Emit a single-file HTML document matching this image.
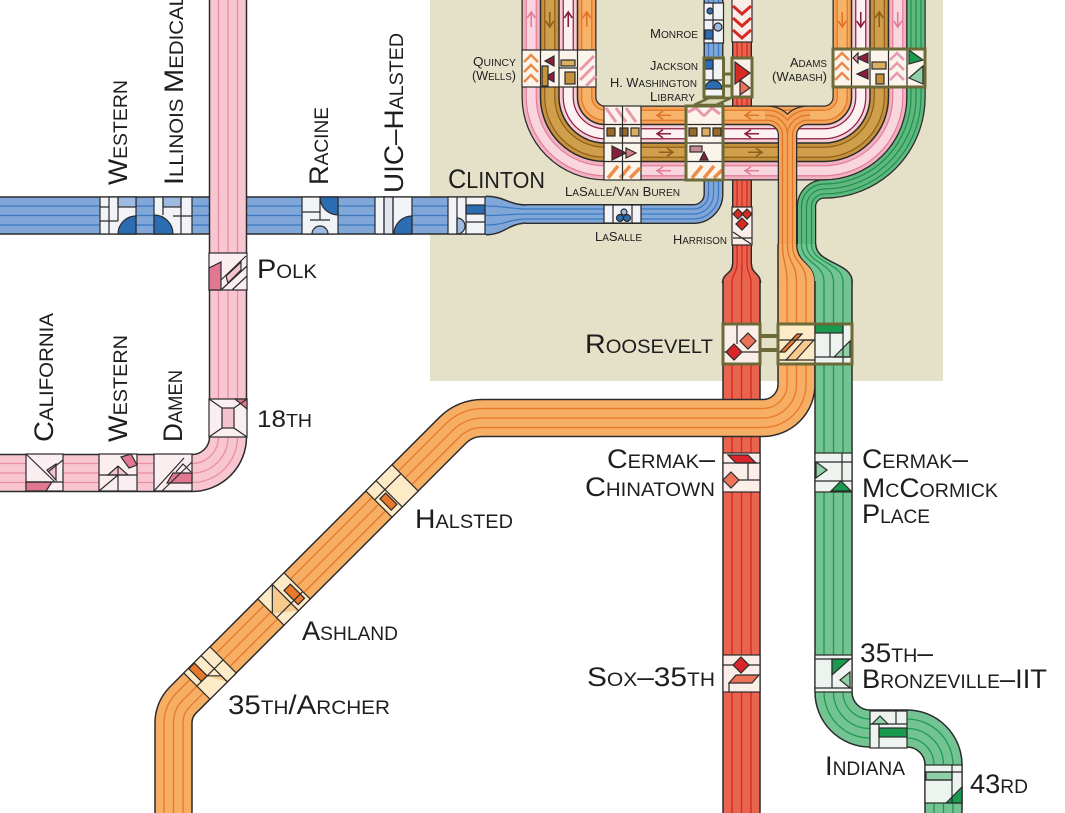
<!DOCTYPE html>
<html><head><meta charset="utf-8">
<style>
html,body{margin:0;padding:0;background:#fff;}
svg{display:block;}
text{font-family:"Liberation Sans",sans-serif;fill:#1e1e1e;}
</style></head><body>
<svg width="1065" height="813" viewBox="0 0 1065 813" xmlns="http://www.w3.org/2000/svg">
<rect width="1065" height="813" fill="#ffffff"/>
<rect x="430" y="0" width="513" height="381" fill="#e5e1c8"/>
<defs>
<path id="blueW" d="M -5 215.5 H 488"/>
<path id="blueN" d="M 526 214 H 693.5 A 20 20 0 0 0 713.5 194 V -5"/>
<path id="redN" d="M 742 -5 V 266"/>
<path id="redW" d="M 741.5 281 V 820"/>
<path id="lpO" d="M 586.75 -5 V 97 A 18.25 18.25 0 0 0 605 115.25 H 824 A 18.25 18.25 0 0 0 842.25 97 V -5"/>
<path id="lpP" d="M 568.25 -5 V 97 A 36.75 36.75 0 0 0 605 133.75 H 824 A 36.75 36.75 0 0 0 860.75 97 V -5"/>
<path id="lpB" d="M 549.75 -5 V 97 A 55.25 55.25 0 0 0 605 152.25 H 824 A 55.25 55.25 0 0 0 879.25 97 V -5"/>
<path id="lpK" d="M 531.25 -5 V 97 A 73.75 73.75 0 0 0 605 170.75 H 824 A 73.75 73.75 0 0 0 897.75 97 V -5"/>
<path id="orF" d="M 765 115.25 H 767.5 A 20 20 0 0 1 787.5 135.25 V 246 M 810 115.25 H 807.5 A 20 20 0 0 0 787.5 135.25"/>
<path id="orW" d="M 796.5 281 V 384.5 A 33.5 33.5 0 0 1 763 418 H 482.4 A 42 42 0 0 0 452.7 430.3 L 182.9 700.1 A 32 32 0 0 0 173.5 722.75 V 820"/>
<path id="grN" d="M 916 -5 V 97 A 92 92 0 0 1 824 189 A 17.5 17.5 0 0 0 806.5 206.5 V 246"/>
<path id="grW" d="M 833.5 281 V 692 A 36.5 36.5 0 0 0 870 728.5 H 907 A 36.5 36.5 0 0 1 943.5 765 V 820"/>
<path id="pkW" d="M 228 -5 V 437 A 36 36 0 0 1 192 473 H -5"/>
</defs>

<!-- BLUE -->
<g fill="none">
<use href="#blueW" stroke="#2b2b2b" stroke-width="38.5"/>
<use href="#blueW" stroke="#80a7d8" stroke-width="35.5"/>
<use href="#blueW" stroke="#3b7ac2" stroke-width="20.3"/>
<use href="#blueW" stroke="#80a7d8" stroke-width="17.7"/>
<use href="#blueW" stroke="#3b7ac2" stroke-width="1.3"/>
</g>
<path d="M 486 196.25 C 505 196.25, 508 205, 528 205 L 528 223 C 508 223, 505 234.75, 486 234.75 Z" fill="#80a7d8"/>
<path d="M 486 196.25 C 505 196.25, 508 205, 528 205 M 528 223 C 508 223, 505 234.75, 486 234.75" fill="none" stroke="#2b2b2b" stroke-width="1.5"/>
<path d="M 486 206 C 506 206, 508 209, 528 209 M 486 215.5 C 506 215.5, 508 214, 528 214 M 486 225 C 506 225, 508 219, 528 219" fill="none" stroke="#3b7ac2" stroke-width="1.3"/>
<g fill="none">
<use href="#blueN" stroke="#2b2b2b" stroke-width="20"/>
<use href="#blueN" stroke="#80a7d8" stroke-width="17.2"/>
<use href="#blueN" stroke="#3b7ac2" stroke-width="11.3"/>
<use href="#blueN" stroke="#80a7d8" stroke-width="8.7"/>
<use href="#blueN" stroke="#3b7ac2" stroke-width="1.2"/>
</g>

<!-- RED -->
<g fill="none">
<use href="#redN" stroke="#2b2b2b" stroke-width="20"/>
<use href="#redN" stroke="#e9644f" stroke-width="17.2"/>
<use href="#redN" stroke="#d2281f" stroke-width="11.3"/>
<use href="#redN" stroke="#e9644f" stroke-width="8.7"/>
<use href="#redN" stroke="#d2281f" stroke-width="1.2"/>
</g>
<path d="M 732.5 264 C 732.5 274, 722.5 273, 722.5 283 L 760.5 283 C 760.5 273, 751.5 274, 751.5 264 Z" fill="#e9644f"/>
<path d="M 732.5 264 C 732.5 274, 722.5 273, 722.5 283 M 760.5 283 C 760.5 273, 751.5 274, 751.5 264" fill="none" stroke="#2b2b2b" stroke-width="1.5"/>
<path d="M 737 264 C 737 274, 732 273, 732 283 M 742 264 C 742 274, 741.5 273, 741.5 283 M 747 264 C 747 274, 751 273, 751 283" fill="none" stroke="#d2281f" stroke-width="1.3"/>
<g fill="none">
<use href="#redW" stroke="#2b2b2b" stroke-width="38.5"/>
<use href="#redW" stroke="#e9644f" stroke-width="35.5"/>
<use href="#redW" stroke="#d2281f" stroke-width="20.3"/>
<use href="#redW" stroke="#e9644f" stroke-width="17.7"/>
<use href="#redW" stroke="#d2281f" stroke-width="1.3"/>
</g>

<!-- LOOP BANDS -->
<g fill="none">
<use href="#lpK" stroke="#2b2b2b" stroke-width="19.5"/>
<use href="#lpK" stroke="#f2b1c0" stroke-width="17"/>
<use href="#lpK" stroke="#e27d98" stroke-width="11.2"/>
<use href="#lpK" stroke="#f9d5de" stroke-width="8.8"/>
<use href="#lpB" stroke="#2b2b2b" stroke-width="19.5"/>
<use href="#lpB" stroke="#c6923c" stroke-width="17"/>
<use href="#lpB" stroke="#8e5f1c" stroke-width="11.2"/>
<use href="#lpB" stroke="#cf9f4c" stroke-width="8.8"/>
<use href="#lpP" stroke="#2b2b2b" stroke-width="19.5"/>
<use href="#lpP" stroke="#f4cdd6" stroke-width="17"/>
<use href="#lpP" stroke="#8a1e3e" stroke-width="11.2"/>
<use href="#lpP" stroke="#fdf1f3" stroke-width="8.8"/>
<use href="#lpO" stroke="#2b2b2b" stroke-width="19.5"/>
<use href="#lpO" stroke="#f4a456" stroke-width="17"/>
<use href="#lpO" stroke="#e0742a" stroke-width="11.2"/>
<use href="#lpO" stroke="#f7b36a" stroke-width="8.8"/>
</g>
<!-- arrows -->
<g fill="none" stroke-width="1.6">
<path stroke="#e27d98" d="M531.25 27 V12 M527.25 18 L531.25 12 L535.25 18"/>
<path stroke="#8e5f1c" d="M549.75 12 V27 M545.75 21 L549.75 27 L553.75 21"/>
<path stroke="#8a1e3e" d="M568.25 27 V12 M564.25 18 L568.25 12 L572.25 18"/>
<path stroke="#e0742a" d="M586.75 27 V12 M582.75 18 L586.75 12 L590.75 18"/>
<path stroke="#e0742a" d="M842.25 12 V27 M838.25 21 L842.25 27 L846.25 21"/>
<path stroke="#8a1e3e" d="M860.75 12 V27 M856.75 21 L860.75 27 L864.75 21"/>
<path stroke="#8e5f1c" d="M879.25 27 V12 M875.25 18 L879.25 12 L883.25 18"/>
<path stroke="#e27d98" d="M897.75 12 V27 M893.75 21 L897.75 27 L901.75 21"/>
<path stroke="#e0742a" d="M671 115.25 H657 M663 111.25 L657 115.25 L663 119.25 M759 115.25 H745 M751 111.25 L745 115.25 L751 119.25"/>
<path stroke="#8a1e3e" d="M671 133.75 H657 M663 129.75 L657 133.75 L663 137.75 M759 133.75 H745 M751 129.75 L745 133.75 L751 137.75"/>
<path stroke="#8e5f1c" d="M659 152.25 H673 M667 148.25 L673 152.25 L667 156.25 M748 152.25 H762 M756 148.25 L762 152.25 L756 156.25"/>
<path stroke="#e27d98" d="M671 170.75 H657 M663 166.75 L657 170.75 L663 174.75 M759 170.75 H745 M751 166.75 L745 170.75 L751 174.75"/>
</g>

<!-- ORANGE -->
<g fill="none">
<use href="#orF" stroke="#2b2b2b" stroke-width="19.5"/>
<use href="#orF" stroke="#f4a456" stroke-width="17"/>
<use href="#orF" stroke="#e0742a" stroke-width="11.2"/>
<use href="#orF" stroke="#f4a456" stroke-width="8.8"/>
<use href="#orF" stroke="#e0742a" stroke-width="1.2"/>
</g>
<path d="M 778 244 L 796.75 244 C 796.75 264, 815 262, 815 282 L 778 282 Z" fill="#f6ad64"/>
<path d="M 778 244 V 282 M 796.75 244 C 796.75 264, 815 262, 815 282" fill="none" stroke="#2b2b2b" stroke-width="1.5"/>
<path d="M 782.5 244 C 782.5 264, 787 262, 787 282 M 787.5 244 C 787.5 264, 796.5 262, 796.5 282 M 792.5 244 C 792.5 264, 806 262, 806 282" fill="none" stroke="#e0742a" stroke-width="1.3"/>
<g fill="none">
<use href="#orW" stroke="#2b2b2b" stroke-width="38.5"/>
<use href="#orW" stroke="#f6ad64" stroke-width="35.5"/>
<use href="#orW" stroke="#e8782a" stroke-width="20.3"/>
<use href="#orW" stroke="#f6ad64" stroke-width="17.7"/>
<use href="#orW" stroke="#e8782a" stroke-width="1.3"/>
</g>

<!-- GREEN -->
<g fill="none">
<use href="#grN" stroke="#2b2b2b" stroke-width="19.5"/>
<use href="#grN" stroke="#5fb880" stroke-width="17"/>
<use href="#grN" stroke="#1e8f4a" stroke-width="11.2"/>
<use href="#grN" stroke="#5fb880" stroke-width="8.8"/>
<use href="#grN" stroke="#1e8f4a" stroke-width="1.2"/>
</g>
<path d="M 797.5 244 C 797.5 264, 815 262, 815 282 L 852.25 282 C 852.25 262, 815.75 264, 815.75 244 Z" fill="#74c393"/>
<path d="M 815.75 244 C 815.75 264, 852.25 262, 852.25 282" fill="none" stroke="#2b2b2b" stroke-width="1.5"/>
<path d="M 801.5 244 C 801.5 264, 824 262, 824 282 M 806.5 244 C 806.5 264, 833.5 262, 833.5 282 M 811.5 244 C 811.5 264, 843 262, 843 282" fill="none" stroke="#1e9a52" stroke-width="1.3"/>
<g fill="none">
<use href="#grW" stroke="#2b2b2b" stroke-width="38.5"/>
<use href="#grW" stroke="#74c393" stroke-width="35.5"/>
<use href="#grW" stroke="#1e9a52" stroke-width="20.3"/>
<use href="#grW" stroke="#74c393" stroke-width="17.7"/>
<use href="#grW" stroke="#1e9a52" stroke-width="1.3"/>
</g>

<!-- PINK -->
<g fill="none">
<use href="#pkW" stroke="#2b2b2b" stroke-width="38.5"/>
<use href="#pkW" stroke="#f8c6d0" stroke-width="35.5"/>
<use href="#pkW" stroke="#e98ea4" stroke-width="20.3"/>
<use href="#pkW" stroke="#f8c6d0" stroke-width="17.7"/>
<use href="#pkW" stroke="#e98ea4" stroke-width="1.3"/>
</g>

<!-- STATION TILES -->
<g stroke="#2b2b2b" stroke-width="1.2">
<!-- blue wide -->
<rect x="100" y="197" width="36" height="37" fill="#f1f3f6"/>
<rect x="118" y="197" width="18" height="10" fill="#9fbbe2"/>
<path d="M118 234 A18 18 0 0 1 136 216 V234 Z" fill="#2c6cb3"/>
<path d="M109 197 V234 M118 197 V221 M100 221 H118 M100 207 H109" fill="none"/>

<rect x="154" y="197" width="38" height="37" fill="#f1f3f6"/>
<rect x="163" y="197" width="18" height="10" fill="#9fbbe2"/>
<path d="M154 215 A19 19 0 0 1 173 234 H154 Z" fill="#2c6cb3"/>
<path d="M163 197 V215 M181 197 V234 M173 216 H192" fill="none"/>

<rect x="302" y="197" width="36" height="37" fill="#f1f3f6"/>
<path d="M320 197 A18 18 0 0 0 338 215 V197 Z" fill="#2c6cb3"/>
<path d="M312 234 A8 8 0 0 1 328 234 Z" fill="#9fbbe2"/>
<path d="M302 212 H320 M320 197 V220 M310 220 H330" fill="none"/>

<rect x="375" y="197" width="37" height="37" fill="#f1f3f6"/>
<rect x="384" y="197" width="9" height="37" fill="#dfe6f1"/>
<path d="M394 234 A18 18 0 0 1 412 216 V234 Z" fill="#2c6cb3"/>
<path d="M384 197 V234 M393 197 V234" fill="none"/>

<rect x="448" y="197" width="37" height="37" fill="#f1f3f6"/>
<rect x="466" y="205" width="19" height="9" fill="#2c6cb3"/>
<path d="M457 218 A8 8 0 0 1 457 234 Z" fill="#9fbbe2"/>
<path d="M457 197 V234 M466 197 V234 M466 222 H485" fill="none"/>

<!-- blue narrow -->
<rect x="604" y="205" width="37" height="18" fill="#f1f3f6"/>
<circle cx="620" cy="218" r="3.5" fill="#2c6cb3"/>
<circle cx="627" cy="218" r="3.5" fill="#2c6cb3"/>
<circle cx="624" cy="212" r="3" fill="#9fbbe2"/>
<path d="M613 205 V223 M632 205 V223" fill="none"/>

<rect x="704" y="3" width="19.5" height="40" fill="#f1f3f6"/>
<circle cx="710" cy="11" r="3" fill="#2c6cb3"/>
<rect x="705" y="30" width="8" height="9" fill="#2c6cb3"/>
<circle cx="718" cy="27" r="4" fill="#9fbbe2"/>
<path d="M713 3 V43 M704 20 H723" fill="none"/>

<rect x="704" y="58" width="19.5" height="39" fill="#f1f3f6"/>
<rect x="705" y="60" width="8" height="9" fill="#2c6cb3"/>
<path d="M705 89 A8.5 8.5 0 0 1 722 89 Z" fill="#2c6cb3"/>
<path d="M713 58 V80 M704 80 H723" fill="none"/>

<!-- red -->
<rect x="732" y="-2" width="20" height="44" fill="#fbeee9"/>
<path d="M733 6 L742 14 L751 6 M733 18 L742 26 L751 18 M733 30 L742 38 L751 30" stroke="#d62a24" stroke-width="3" fill="none"/>
<rect x="732" y="58" width="20" height="39" fill="#fbeee9"/>
<path d="M735 62 L750 73 L735 84 Z" fill="#d62a24"/>
<path d="M740 80 L750 88 L740 95 Z" fill="#ec7358"/>
<rect x="732" y="207" width="20" height="38" fill="#fbeee9"/>
<path d="M738 209 L743 214 L738 219 L733 214 Z M747 209 L752 214 L747 219 L742 214 Z M742 218 L748 224 L742 230 L736 224 Z" fill="#d62a24"/>
<path d="M733 232 L751 244 M733 238 H752" fill="none"/>

<rect x="723" y="324" width="37" height="40" fill="#fbeee9"/>
<path d="M734 344 L742 352 L734 360 L726 352 Z" fill="#d9252b"/>
<path d="M748 333 L756 341 L748 349 L740 341 Z" fill="#ec7358"/>
<path d="M737 324 V344 M723 352 H726 M742 352 H760" fill="none"/>

<rect x="723" y="453" width="37" height="39" fill="#fbeee9"/>
<path d="M728 455 H748 L756 463 H736 Z" fill="#d9252b"/>
<path d="M731 472 L739 480 L731 488 L723 480 Z" fill="#ec7358"/>
<path d="M723 463 H760 M739 480 H760 M748 463 V480" fill="none"/>

<rect x="723" y="655" width="37" height="37" fill="#fbeee9"/>
<path d="M741 657 L749 665 L741 673 L733 665 Z" fill="#d9252b"/>
<path d="M736 675 H759 L752 683 H729 Z" fill="#ec7358"/>
<path d="M723 665 H733 M749 665 H760 M729 683 V692" fill="none"/>

<!-- orange/green Roosevelt -->
<rect x="778" y="324" width="37" height="40" fill="#fdebc8"/>
<path d="M780 352 L797 334 H802 L785 352 Z" fill="#e8782a"/>
<path d="M786 360 L804 340 H814 L796 360 Z" fill="#f7c98d"/>
<path d="M778 340 H815 M778 360 H815" fill="none"/>
<rect x="815" y="324" width="37" height="40" fill="#edf3ee"/>
<rect x="815" y="325" width="28" height="8" fill="#1a9a4e"/>
<path d="M834 357 L850 341 V357 Z" fill="#8fd0a6"/>
<path d="M843 325 V364 M815 357 H852 M830 333 V357" fill="none"/>

<!-- green -->
<rect x="815" y="453" width="37" height="39" fill="#edf3ee"/>
<path d="M816 462 L827 470 L816 478 Z" fill="#8fd0a6"/>
<path d="M831 491 L841 481 L851 491 Z" fill="#1a9a4e"/>
<path d="M815 462 H852 M815 481 H852 M842 453 V481" fill="none"/>

<rect x="815" y="655" width="37" height="37" fill="#edf3ee"/>
<path d="M832 659 H850 L832 675 Z" fill="#1a9a4e"/>
<path d="M840 680 L850 672 V688 Z" fill="#8fd0a6"/>
<path d="M815 659 H852 M815 688 H852 M832 659 V688" fill="none"/>

<rect x="870" y="711" width="37" height="37" fill="#edf3ee"/>
<path d="M872 724 L880 716 L888 724 Z" fill="#8fd0a6"/>
<rect x="879" y="728" width="28" height="9" fill="#1a9a4e"/>
<path d="M870 724 H907 M879 724 V748 M896 711 V724" fill="none"/>

<rect x="925" y="765" width="37" height="38" fill="#edf3ee"/>
<rect x="926" y="772" width="26" height="8" fill="#8fd0a6"/>
<path d="M946 803 L962 787 V803 Z" fill="#1a9a4e"/>
<path d="M925 772 H962 M925 780 H952 M952 765 V803" fill="none"/>

<!-- pink -->
<rect x="209" y="253" width="38" height="37" fill="#fbeef1"/>
<path d="M209 290 V268 L221 262 V290 Z" fill="#e07892"/>
<path d="M226 276 L241 262 V270 L228 283 Z" fill="#f5c3cf"/>
<path d="M221 290 L247 266 M221 280 L246 256 M232 290 L247 276" fill="none"/>

<rect x="209" y="399" width="38" height="38" fill="#fbeef1"/>
<path d="M235 399 H247 V409 Z" fill="#e07892"/>
<rect x="222" y="408" width="12" height="20" fill="#f5c3cf"/>
<path d="M209 399 L222 408 M247 399 L234 408 M209 437 L222 428 M247 437 L234 428" fill="none"/>

<rect x="154" y="454" width="38" height="37" fill="#fbeef1"/>
<path d="M167 483 L173 473 H192 V483 Z" fill="#e07892"/>
<path d="M154 491 L184 458 M162 491 L192 462 M176 472 L183 464 L191 472" fill="none"/>

<rect x="99" y="454" width="38" height="37" fill="#fbeef1"/>
<path d="M121 457 L131 454 L137 465 L129 468 Z" fill="#e07892"/>
<path d="M108 475 L118 466 L128 475 Z" fill="#f5c3cf"/>
<path d="M99 475 H137 M118 466 V491 M99 491 L118 475" fill="none"/>

<rect x="26" y="454" width="37" height="37" fill="#fbeef1"/>
<path d="M26 482 H52 L46 491 H26 Z" fill="#e07892"/>
<path d="M47 470 L56 464 V480 Z" fill="#f5c3cf"/>
<path d="M26 454 L55 482 M26 482 H63 M63 460 L48 472" fill="none"/>

<!-- orange diagonal tiles -->
<g transform="translate(392 491) rotate(-45)">
<rect x="-18.5" y="-18.5" width="37" height="37" fill="#fdebc8"/>
<path d="M-18.5 -6 H18.5 M-4 -18.5 V18.5" fill="none"/>
<rect x="-14" y="-3" width="8" height="16" fill="#e8782a"/>
</g>
<g transform="translate(284 599) rotate(-45)">
<rect x="-18.5" y="-18.5" width="37" height="37" fill="#fdebc8"/>
<path d="M-18.5 2 L2 -18.5 L2 18.5" fill="#f7c98d"/>
<rect x="6" y="-6" width="9" height="20" fill="#e8782a"/>
<path d="M-18.5 8 H18.5" fill="none"/>
</g>
<g transform="translate(210 673) rotate(-45)">
<rect x="-18.5" y="-18.5" width="37" height="37" fill="#fdebc8"/>
<rect x="-12" y="-18" width="8" height="18" fill="#e8782a"/>
<path d="M-4 0 L6 10 V18.5" fill="#f7c98d"/>
<path d="M-18.5 0 H18.5 M6 -18.5 V18.5" fill="none"/>
</g>

<!-- loop tiles -->
<rect x="522" y="50" width="74" height="37" fill="#fbf4ea"/>
<path d="M524 62 L531 55 L538 62 M524 72 L531 65 L538 72 M524 82 L531 75 L538 82" stroke="#ea8c4c" stroke-width="2.5" fill="none"/>
<path d="M554 56 V66 L545 61 Z M554 72 V82 L545 77 Z" fill="#8a1e3e"/>
<rect x="542" y="66" width="6" height="20" fill="#c6923c"/>
<rect x="561" y="60" width="14" height="6" fill="#d8b060"/>
<rect x="565" y="72" width="10" height="12" fill="#c6923c"/>
<path d="M580 70 L594 56 M580 80 L594 66 M586 86 L596 76" stroke="#e898b0" stroke-width="3" fill="none"/>
<path d="M540.5 50 V87 M559 50 V87 M577.5 50 V87 M559 68 H577.5" fill="none"/>

<rect x="833" y="49" width="92" height="38" fill="#fbf4ea"/>
<path d="M835 60 L842 53 L849 60 M835 70 L842 63 L849 70 M835 80 L842 73 L849 80" stroke="#ea8c4c" stroke-width="2.5" fill="none"/>
<path d="M868 53 V63 L857 58 Z M868 69 V79 L857 74 Z" fill="#8a1e3e"/>
<path d="M853 58 L858 53 L858 63 Z" fill="#e898b0"/>
<rect x="872" y="62" width="14" height="7" fill="#d8b060"/>
<rect x="876" y="74" width="8" height="10" fill="#c6923c"/>
<path d="M890 60 L897 53 L904 60 M890 70 L897 63 L904 70 M890 80 L897 73 L904 80" stroke="#e898b0" stroke-width="2.5" fill="none"/>
<path d="M909 50 L923 60 L909 64 Z" fill="#1a9a4e"/>
<path d="M923 66 L909 78 L923 84 Z" fill="#8fd0a6"/>
<path d="M851.5 49 V87 M870 49 V87 M888.5 49 V87 M907 49 V87" fill="none"/>

<rect x="604" y="106" width="37" height="74" fill="#fbf4ea"/>
<path d="M606 108 L616 122 M616 108 L626 122 M626 108 L636 122" stroke="#e898b0" stroke-width="3" fill="none"/>
<rect x="607" y="128" width="8" height="8" fill="#9a6a28"/>
<rect x="620" y="128" width="8" height="8" fill="#9a6a28"/>
<rect x="631" y="128" width="8" height="8" fill="#d8b060"/>
<path d="M612 146 L626 153 L612 160 Z" fill="#8a1e3e"/>
<path d="M626 148 L636 153 L626 158 Z" fill="#d47a8a"/>
<path d="M608 178 L618 166 M620 178 L630 166 M630 178 L640 168" stroke="#ea8c4c" stroke-width="3.5" fill="none"/>
<path d="M604 124.5 H641 M604 143 H641 M604 161.5 H641 M622.5 106 V180" fill="none"/>

<rect x="686" y="106" width="37" height="74" fill="#fbf4ea"/>
<path d="M688 112 L696 108 L704 116 M704 116 L712 108 L720 114" stroke="#e898b0" stroke-width="3" fill="none"/>
<rect x="689" y="128" width="8" height="8" fill="#9a6a28"/>
<rect x="702" y="128" width="8" height="8" fill="#d8b060"/>
<rect x="713" y="128" width="8" height="8" fill="#9a6a28"/>
<rect x="690" y="146" width="12" height="6" fill="#c88a9a"/>
<path d="M700 160 L704 152 L708 160 Z" fill="#8a1e3e"/>
<path d="M692 178 L702 166 M704 178 L714 166 M714 178 L722 170" stroke="#ea8c4c" stroke-width="3.5" fill="none"/>
<path d="M686 124.5 H723 M686 143 H723 M686 161.5 H723" fill="none"/>
</g>

<!-- olive frames & connectors -->
<g fill="none" stroke="#6d6a3a" stroke-width="3">
<rect x="833" y="49" width="92" height="38"/>
<rect x="686" y="106" width="37" height="74"/>
<rect x="704" y="58" width="19.5" height="39"/>
<rect x="732" y="58" width="20" height="39"/>
<rect x="723" y="324" width="37" height="40"/>
<rect x="778" y="324" width="74" height="40"/>
<path d="M723.5 74 H732 M723.5 86 H732"/>
</g>
<path d="M709 98 H731 L716 105 H694 Z" fill="#d8d5b5" stroke="#6d6a3a" stroke-width="2.5"/>
<rect x="760" y="334" width="18" height="4" fill="#6d6a3a"/>
<rect x="760" y="348" width="18" height="4" fill="#6d6a3a"/>

<!-- LABELS -->
<g lengthAdjust="spacingAndGlyphs">
<text transform="translate(127 185) rotate(-90)" textLength="105" lengthAdjust="spacingAndGlyphs" font-size="27">W<tspan font-size="19">ESTERN</tspan></text>
<text transform="translate(183 185) rotate(-90)" textLength="190" lengthAdjust="spacingAndGlyphs" font-size="27">I<tspan font-size="19">LLINOIS </tspan>M<tspan font-size="19">EDICAL</tspan></text>
<text transform="translate(328 185) rotate(-90)" textLength="78" lengthAdjust="spacingAndGlyphs" font-size="27">R<tspan font-size="19">ACINE</tspan></text>
<text transform="translate(403 193) rotate(-90)" textLength="160" lengthAdjust="spacingAndGlyphs" font-size="27">UIC–H<tspan font-size="19">ALSTED</tspan></text>
<text transform="translate(53 442) rotate(-90)" textLength="129" lengthAdjust="spacingAndGlyphs" font-size="27">C<tspan font-size="19">ALIFORNIA</tspan></text>
<text transform="translate(127 442) rotate(-90)" textLength="107" lengthAdjust="spacingAndGlyphs" font-size="27">W<tspan font-size="19">ESTERN</tspan></text>
<text transform="translate(182 442) rotate(-90)" textLength="72" lengthAdjust="spacingAndGlyphs" font-size="27">D<tspan font-size="19">AMEN</tspan></text>

<text x="448" y="188" textLength="97" lengthAdjust="spacingAndGlyphs" font-size="27">C<tspan font-size="23">LINTON</tspan></text>
<text x="257" y="278" textLength="60" lengthAdjust="spacingAndGlyphs" font-size="27">P<tspan font-size="19">OLK</tspan></text>
<text x="257" y="427" textLength="55" lengthAdjust="spacingAndGlyphs" font-size="24">18<tspan font-size="18">TH</tspan></text>
<text x="585" y="353" textLength="128" lengthAdjust="spacingAndGlyphs" font-size="27">R<tspan font-size="19">OOSEVELT</tspan></text>
<text x="607" y="468" textLength="108" lengthAdjust="spacingAndGlyphs" font-size="27">C<tspan font-size="19">ERMAK</tspan>–</text>
<text x="585" y="496" textLength="130" lengthAdjust="spacingAndGlyphs" font-size="27">C<tspan font-size="19">HINATOWN</tspan></text>
<text x="415" y="528" textLength="98" lengthAdjust="spacingAndGlyphs" font-size="27">H<tspan font-size="19">ALSTED</tspan></text>
<text x="302" y="640" textLength="96" lengthAdjust="spacingAndGlyphs" font-size="27">A<tspan font-size="19">SHLAND</tspan></text>
<text x="228" y="714" textLength="162" lengthAdjust="spacingAndGlyphs" font-size="27">35<tspan font-size="19">TH</tspan>/A<tspan font-size="19">RCHER</tspan></text>
<text x="587" y="686" textLength="128" lengthAdjust="spacingAndGlyphs" font-size="27">S<tspan font-size="19">OX</tspan>–35<tspan font-size="19">TH</tspan></text>
<text x="862" y="468" textLength="106" lengthAdjust="spacingAndGlyphs" font-size="27">C<tspan font-size="19">ERMAK</tspan>–</text>
<text x="862" y="497" textLength="136" lengthAdjust="spacingAndGlyphs" font-size="27">M<tspan font-size="19">C</tspan>C<tspan font-size="19">ORMICK</tspan></text>
<text x="862" y="523" textLength="68" lengthAdjust="spacingAndGlyphs" font-size="27">P<tspan font-size="19">LACE</tspan></text>
<text x="860" y="662" textLength="73" lengthAdjust="spacingAndGlyphs" font-size="27">35<tspan font-size="19">TH</tspan>–</text>
<text x="862" y="688" textLength="185" lengthAdjust="spacingAndGlyphs" font-size="27">B<tspan font-size="19">RONZEVILLE</tspan>–IIT</text>
<text x="825" y="775" textLength="80" lengthAdjust="spacingAndGlyphs" font-size="27">I<tspan font-size="19">NDIANA</tspan></text>
<text x="970" y="793" textLength="58" lengthAdjust="spacingAndGlyphs" font-size="27">43<tspan font-size="19">RD</tspan></text>

<text x="473" y="66" textLength="43" lengthAdjust="spacingAndGlyphs" font-size="13">Q<tspan font-size="10">UINCY</tspan></text>
<text x="472" y="80" textLength="44" lengthAdjust="spacingAndGlyphs" font-size="13">(W<tspan font-size="10">ELLS</tspan>)</text>
<text x="650" y="38" textLength="48" lengthAdjust="spacingAndGlyphs" font-size="13">M<tspan font-size="10">ONROE</tspan></text>
<text x="650" y="70" textLength="48" lengthAdjust="spacingAndGlyphs" font-size="13">J<tspan font-size="10">ACKSON</tspan></text>
<text x="610" y="87" textLength="87" lengthAdjust="spacingAndGlyphs" font-size="13">H. W<tspan font-size="10">ASHINGTON</tspan></text>
<text x="650" y="101" textLength="45" lengthAdjust="spacingAndGlyphs" font-size="13">L<tspan font-size="10">IBRARY</tspan></text>
<text x="790" y="67" textLength="37" lengthAdjust="spacingAndGlyphs" font-size="13">A<tspan font-size="10">DAMS</tspan></text>
<text x="772" y="81" textLength="55" lengthAdjust="spacingAndGlyphs" font-size="13">(W<tspan font-size="10">ABASH</tspan>)</text>
<text x="565" y="196" textLength="115" lengthAdjust="spacingAndGlyphs" font-size="13">L<tspan font-size="10">A</tspan>S<tspan font-size="10">ALLE</tspan>/V<tspan font-size="10">AN</tspan> B<tspan font-size="10">UREN</tspan></text>
<text x="595" y="241" textLength="47" lengthAdjust="spacingAndGlyphs" font-size="13">L<tspan font-size="10">A</tspan>S<tspan font-size="10">ALLE</tspan></text>
<text x="673" y="244" textLength="54" lengthAdjust="spacingAndGlyphs" font-size="13">H<tspan font-size="10">ARRISON</tspan></text>
</g>
</svg>
</body></html>
